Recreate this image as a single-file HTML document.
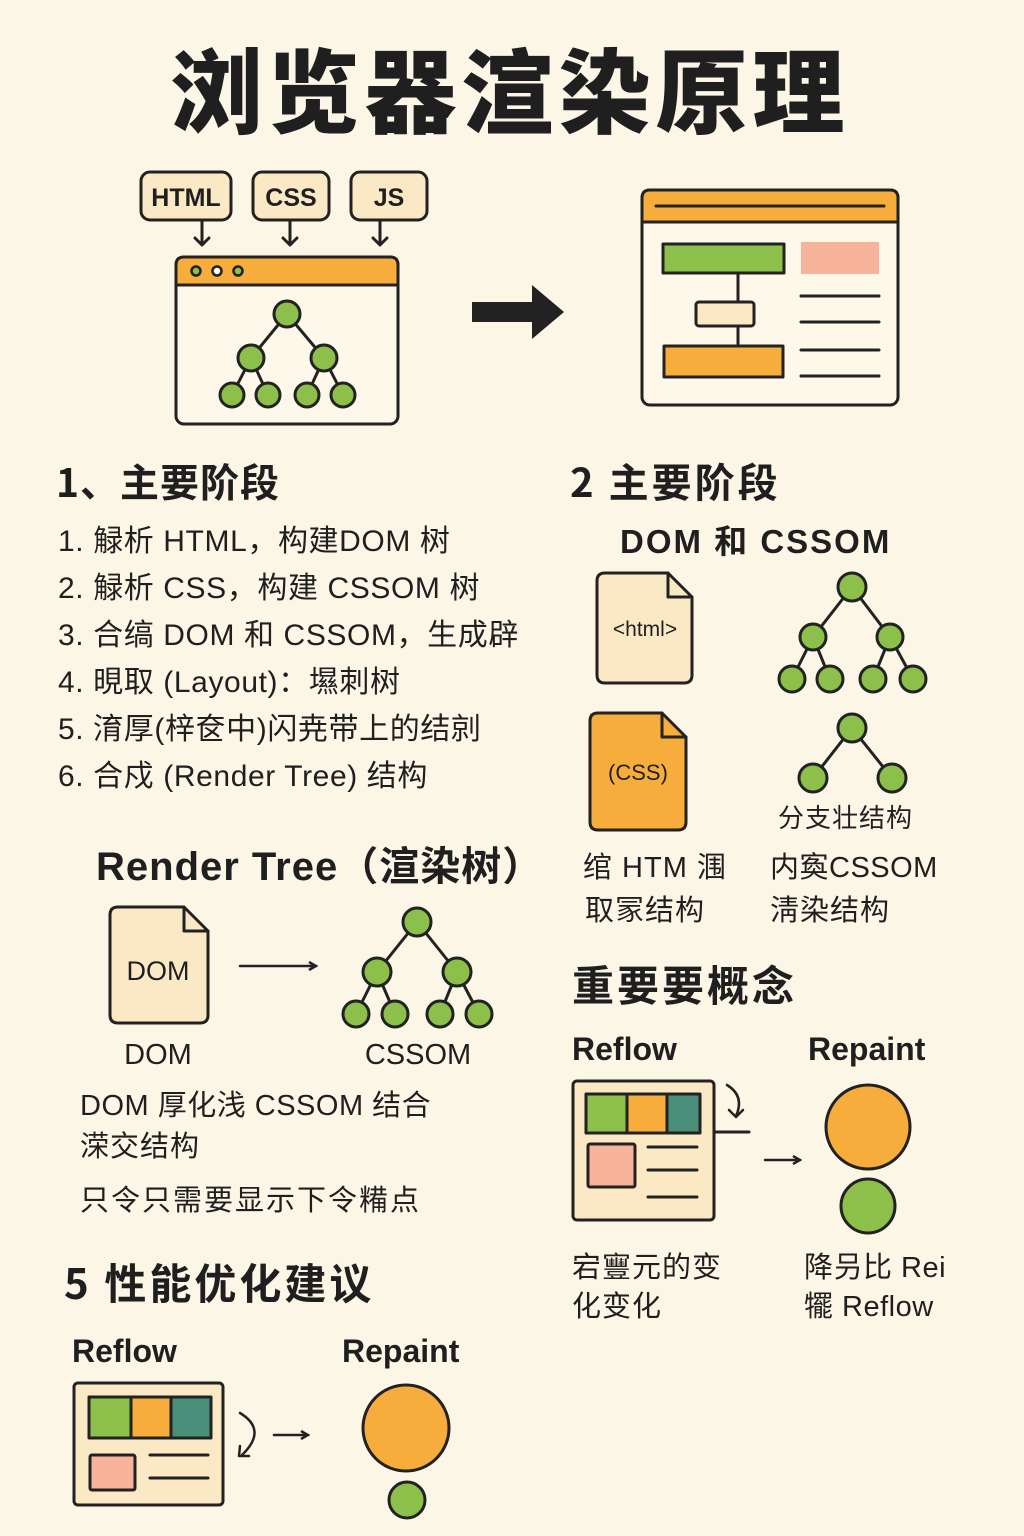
<!DOCTYPE html>
<html><head><meta charset="utf-8"><style>
html,body{margin:0;padding:0;background:#fcf6e6;}
svg{display:block}
text{font-family:"Liberation Sans","Noto Sans CJK SC",sans-serif;fill:#1f1f1f;}
.cj{font-family:"Noto Sans CJK SC","Liberation Sans",sans-serif;}
</style></head><body>
<svg width="1024" height="1536" viewBox="0 0 1024 1536" xmlns="http://www.w3.org/2000/svg">
<rect width="1024" height="1536" fill="#fcf6e6"/>
<defs>
<marker id="ah" markerWidth="10" markerHeight="10" refX="8" refY="5" orient="auto" markerUnits="userSpaceOnUse"><path d="M1,1 L8,5 L1,9" fill="none" stroke="#222" stroke-width="2.5"/></marker>
</defs>
<g stroke="#222" stroke-width="3" stroke-linecap="round" stroke-linejoin="round">
<text class="cj" x="510" y="126" font-size="92" font-weight="900" text-anchor="middle" stroke="none" letter-spacing="5">浏览器渲染原理</text>

<rect x="141" y="172" width="90" height="48" rx="9" fill="#fbe9c6"/>
<rect x="253" y="172" width="76" height="48" rx="9" fill="#fbe9c6"/>
<rect x="351" y="172" width="76" height="48" rx="9" fill="#fbe9c6"/>
<g stroke="none" font-weight="bold" font-size="25" text-anchor="middle">
<text x="186" y="206">HTML</text><text x="291" y="206">CSS</text><text x="389" y="206">JS</text></g>
<path d="M202 222V245M195 238L202 245L209 238M290 222V245M283 238L290 245L297 238M380 222V245M373 238L380 245L387 238" fill="none"/>
<rect x="176" y="257" width="222" height="167" rx="8" fill="#fdf8ea"/>
<path d="M176 285V265Q176 257 184 257H390Q398 257 398 265V285Z" fill="#f6ad3b"/>
<circle cx="196" cy="271" r="4.5" fill="#8cc04a" stroke-width="2.5"/><circle cx="217" cy="271" r="4.5" fill="#fff" stroke-width="2.5"/><circle cx="238" cy="271" r="4.5" fill="#8cc04a" stroke-width="2.5"/>
<path d="M287 314L251 358M287 314L324 358M251 358L232 395M251 358L268 395M324 358L307 395M324 358L343 395" fill="none"/>
<g fill="#8cc04a"><circle cx="287" cy="314" r="13"/><circle cx="251" cy="358" r="13"/><circle cx="324" cy="358" r="13"/><circle cx="232" cy="395" r="12"/><circle cx="268" cy="395" r="12"/><circle cx="307" cy="395" r="12"/><circle cx="343" cy="395" r="12"/></g>

<path d="M472 302H532V285L564 312L532 339V322H472Z" fill="#222" stroke="none"/>

<rect x="642" y="190" width="256" height="215" rx="8" fill="#fdf8ea"/>
<path d="M642 222V198Q642 190 650 190H890Q898 190 898 198V222Z" fill="#f6ad3b"/>
<line x1="656" y1="206" x2="884" y2="206"/>
<rect x="663" y="244" width="121" height="29" fill="#8cc04a"/>
<rect x="801" y="242" width="78" height="32" fill="#f7b49b" stroke="none"/>
<rect x="696" y="302" width="58" height="24" rx="3" fill="#fbe9c6"/>
<rect x="664" y="346" width="119" height="31" fill="#f6ad3b"/>
<path d="M738 273V302M738 326V346M801 296H879M801 322H879M801 350H879M801 376H879" fill="none"/>

<g stroke="none">
<text class="cj" x="56" y="497" font-size="39" font-weight="bold" letter-spacing="1">1、主要阶段</text>
<g font-size="30" letter-spacing="0.6"><text x="58" y="551">1. 觮析 HTML，构建DOM 树</text>
<text x="58" y="598">2. 觮析 CSS，构建 CSSOM 树</text>
<text x="58" y="645">3. 合缟 DOM 和 CSSOM，生成辟</text>
<text x="58" y="692">4. 晛取 (Layout)：㙷刺树</text>
<text x="58" y="739">5. 淯厚(梓奁中)闪尭带上的结剠</text>
<text x="58" y="786">6. 合戍 (Render Tree) 结构</text></g>

<text class="cj" x="570" y="497" font-size="40" font-weight="bold" letter-spacing="3">2  主要阶段</text>
<text x="620" y="553" font-size="33" font-weight="bold" letter-spacing="2">DOM  和  CSSOM</text>
</g>
<path d="M605 573H668L692 597V675Q692 683 684 683H605Q597 683 597 675V581Q597 573 605 573Z" fill="#fbe9c6"/>
<path d="M668 573V597H692" fill="none"/>
<text x="645" y="636" font-size="21" text-anchor="middle" stroke="none">&lt;html&gt;</text>
<path d="M852 587L813 637M852 587L890 637M813 637L792 679M813 637L830 679M890 637L873 679M890 637L913 679" fill="none"/>
<g fill="#8cc04a"><circle cx="852" cy="587" r="14"/><circle cx="813" cy="637" r="13"/><circle cx="890" cy="637" r="13"/><circle cx="792" cy="679" r="13"/><circle cx="830" cy="679" r="13"/><circle cx="873" cy="679" r="13"/><circle cx="913" cy="679" r="13"/></g>
<path d="M598 713H662L686 737V822Q686 830 678 830H598Q590 830 590 822V721Q590 713 598 713Z" fill="#f6ad3b"/>
<path d="M662 713V737H686" fill="none"/>
<text x="638" y="780" font-size="22" text-anchor="middle" stroke="none">(CSS)</text>
<path d="M852 728L813 778M852 728L892 778" fill="none"/>
<g fill="#8cc04a"><circle cx="852" cy="728" r="14"/><circle cx="813" cy="778" r="14"/><circle cx="892" cy="778" r="14"/></g>
<g stroke="none" font-size="29">
<text class="cj" x="778" y="827" font-size="26" letter-spacing="1">分支壮结构</text>
<text x="583" y="877" letter-spacing="1">绾 HTM 涠</text><text x="585" y="920" letter-spacing="1">取冡结构</text>
<text x="770" y="877" letter-spacing="0.5">内寏CSSOM</text><text x="770" y="920" letter-spacing="1">淸染结构</text>

<text x="96" y="880" font-size="40" font-weight="bold" letter-spacing="1">Render Tree（渲染树）</text>
</g>
<path d="M118 907H184L208 931V1015Q208 1023 200 1023H118Q110 1023 110 1015V915Q110 907 118 907Z" fill="#fbe9c6"/>
<path d="M184 907V931H208" fill="none"/>
<text x="158" y="980" font-size="27" text-anchor="middle" stroke="none">DOM</text>
<line x1="240" y1="966" x2="316" y2="966" stroke-width="2.5" marker-end="url(#ah)"/>
<path d="M417 922L377 972M417 922L457 972M377 972L356 1014M377 972L395 1014M457 972L440 1014M457 972L479 1014" fill="none"/>
<g fill="#8cc04a"><circle cx="417" cy="922" r="14"/><circle cx="377" cy="972" r="14"/><circle cx="457" cy="972" r="14"/><circle cx="356" cy="1014" r="13"/><circle cx="395" cy="1014" r="13"/><circle cx="440" cy="1014" r="13"/><circle cx="479" cy="1014" r="13"/></g>
<g stroke="none" font-size="29">
<text x="158" y="1064" text-anchor="middle">DOM</text><text x="418" y="1064" text-anchor="middle">CSSOM</text>
<text x="80" y="1115" letter-spacing="0.5">DOM 厚化浅 CSSOM 结合</text>
<text x="80" y="1156" letter-spacing="1">溁交结构</text>
<text x="80" y="1210" letter-spacing="2">只令只需要显示下令糒点</text>

<text class="cj" x="572" y="1001" font-size="42" font-weight="bold" letter-spacing="3">重要要概念</text>
<text x="572" y="1060" font-size="32" font-weight="bold">Reflow</text>
<text x="808" y="1060" font-size="32" font-weight="bold">Repaint</text>
</g>
<rect x="573" y="1081" width="141" height="139" rx="4" fill="#fbe9c6"/>
<rect x="586" y="1094" width="41" height="39" fill="#8cc04a"/><rect x="627" y="1094" width="40" height="39" fill="#f6ad3b"/><rect x="667" y="1094" width="33" height="39" fill="#4a8f7a"/>
<rect x="588" y="1144" width="47" height="43" rx="2" fill="#f7b49b"/>
<path d="M648 1147H697M648 1170H697M648 1197H697M714 1132H749" fill="none"/>
<path d="M727 1085Q745 1096 736 1116M729 1110L736 1117L743 1110" fill="none" stroke-width="2.5"/>
<line x1="765" y1="1160" x2="800" y2="1160" stroke-width="2.5" marker-end="url(#ah)"/>
<circle cx="868" cy="1127" r="42" fill="#f6ad3b"/><circle cx="868" cy="1206" r="27" fill="#8cc04a"/>
<g stroke="none" font-size="29">
<text x="572" y="1277" letter-spacing="1">宕寷元的变</text><text x="572" y="1316" letter-spacing="1">化变化</text>
<text x="804" y="1277" letter-spacing="0.5">降叧比 Rei</text><text x="804" y="1316" letter-spacing="0.5">犤 Reflow</text>

<text class="cj" x="64" y="1299" font-size="42" font-weight="bold" letter-spacing="3">5  性能优化建议</text>
<text x="72" y="1362" font-size="32" font-weight="bold">Reflow</text>
<text x="342" y="1362" font-size="32" font-weight="bold">Repaint</text>
</g>
<rect x="74" y="1383" width="149" height="122" rx="4" fill="#fbe9c6"/>
<rect x="89" y="1397" width="42" height="41" fill="#8cc04a"/><rect x="131" y="1397" width="40" height="41" fill="#f6ad3b"/><rect x="171" y="1397" width="40" height="41" fill="#4a8f7a"/>
<rect x="90" y="1455" width="45" height="35" rx="2" fill="#f7b49b"/>
<path d="M150 1455H208M150 1478H208" fill="none"/>
<path d="M240 1413Q268 1430 242 1455M240 1446L239 1456L249 1456" fill="none" stroke-width="2.5"/>
<line x1="274" y1="1435" x2="308" y2="1435" stroke-width="2.5" marker-end="url(#ah)"/>
<circle cx="406" cy="1428" r="43" fill="#f6ad3b"/><circle cx="407" cy="1500" r="18" fill="#8cc04a"/>
</g>
</svg>
</body></html>
